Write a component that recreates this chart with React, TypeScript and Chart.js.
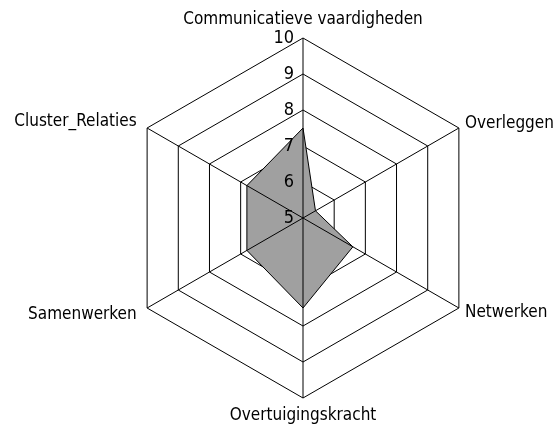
import React, { useEffect, useRef } from 'react';
import { Chart, registerables } from 'chart.js';

Chart.register(...registerables);

const categories = [
  'Communicatieve vaardigheden',
  'Overleggen',
  'Netwerken',
  'Overtuigingskracht',
  'Samenwerken',
  'Cluster_Relaties',
];
const scores = [7.5, 5.4, 6.6, 7.5, 6.8, 6.8];
const tickValues = [5, 6, 7, 8, 9, 10];

const FONT = "'DejaVu Sans Condensed', 'Liberation Sans Narrow', sans-serif";
const LABEL_SIZE = 17;
const TICK_SIZE = 18;

const overlayPlugin = {
  id: 'overlay',
  afterDatasetsDraw(chart: any) {
    const scale = chart.scales.r;
    const ctx = chart.ctx;
    ctx.save();
    ctx.strokeStyle = '#000';
    ctx.lineWidth = 1;
    ctx.beginPath();
    for (let i = 0; i < categories.length; i++) {
      const p = scale.getPointPositionForValue(i, scale.max);
      ctx.moveTo(scale.xCenter, scale.yCenter);
      ctx.lineTo(p.x, p.y);
    }
    ctx.stroke();
    ctx.fillStyle = '#000';
    ctx.font = `${TICK_SIZE}px ${FONT}`;
    ctx.textAlign = 'right';
    ctx.textBaseline = 'middle';
    tickValues.forEach((v) => {
      const d = scale.getDistanceFromCenterForValue(v);
      ctx.fillText(String(v), scale.xCenter - 9, scale.yCenter - d);
    });
    ctx.restore();
  },
};

export default function App() {
  const ref = useRef<HTMLCanvasElement>(null);
  useEffect(() => {
    document.body.style.margin = '0';
    const canvas = ref.current as HTMLCanvasElement;

    // layout fitting so that the radar sits where the reference has it
    const mctx = document.createElement('canvas').getContext('2d') as CanvasRenderingContext2D;
    mctx.font = `${LABEL_SIZE}px ${FONT}`;
    const wLeft = Math.max(mctx.measureText(categories[4]).width, mctx.measureText(categories[5]).width);
    const S = Math.sin(Math.PI / 3);
    const XC0 = 293;
    const D0 = 201;
    const LM = 21;
    let pL = 12;
    let L = XC0 - (D0 + pL) * S - wLeft + LM * S;
    if (L < 0) {
      L = 0;
      pL = (XC0 + LM * S - wLeft) / S - D0;
    }
    const w = 2 * (XC0 + 0.25 - L);
    const CW = Math.ceil(L + w) + 1;
    const pr = CW - L - w;
    canvas.width = CW;
    canvas.height = 429;
    const labelPadding = [18, 7, 7, 17, pL, pL];

    const chart = new Chart(canvas, {
      type: 'radar',
      data: {
        labels: categories,
        datasets: [
          {
            data: scores,
            backgroundColor: '#a0a0a0',
            borderColor: '#000',
            borderWidth: 1,
            fill: true,
            pointRadius: 0,
            pointHoverRadius: 0,
          },
        ],
      },
      options: {
        responsive: false,
        animation: false,
        layout: { padding: { top: 17, bottom: 10, left: L, right: pr } },
        plugins: { legend: { display: false }, tooltip: { enabled: false } },
        scales: {
          r: {
            min: 5,
            max: 10,
            ticks: { display: false, stepSize: 1 },
            grid: { color: '#000', lineWidth: 1 },
            angleLines: { display: false },
            pointLabels: {
              color: '#000',
              padding: (ctx: any) => labelPadding[ctx.index],
              font: { family: FONT, size: LABEL_SIZE, lineHeight: 0.1 },
            },
          },
        },
      },
      plugins: [overlayPlugin],
    });
    return () => chart.destroy();
  }, []);
  return (
    <div style={{ width: 557, height: 429, overflow: 'hidden', position: 'relative' }}>
      <canvas ref={ref} width={557} height={429} style={{ display: 'block' }} />
    </div>
  );
}
